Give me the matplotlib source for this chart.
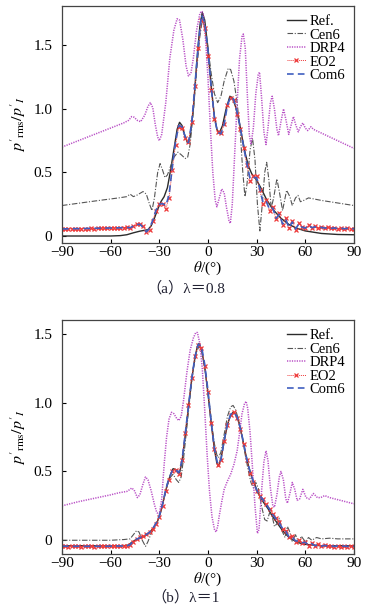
import matplotlib
matplotlib.use("Agg")
import matplotlib.pyplot as plt
import numpy as np

plt.rcParams['font.family'] = ['Liberation Serif', 'Noto Sans CJK SC', 'DejaVu Sans']
plt.rcParams['mathtext.fontset'] = 'stix'
plt.rcParams['font.size'] = 10

# ---------------- (a) lambda = 0.8 ----------------
grid_a = list(range(-90, 91, 2))
eo2_a = [0.055, 0.057, 0.055, 0.058, 0.056, 0.058, 0.057, 0.059, 0.058, 0.060,
         0.059, 0.061, 0.060, 0.062, 0.061, 0.063, 0.062, 0.064, 0.063, 0.066,
         0.068, 0.060, 0.075, 0.092, 0.095, 0.075, 0.030, 0.050, 0.120, 0.200,
         0.255, 0.250, 0.215, 0.300, 0.520, 0.720, 0.860, 0.850, 0.770, 0.740,
         0.900, 1.180, 1.480, 1.700, 1.640, 1.420, 1.150, 0.920, 0.820, 0.810,
         0.880, 1.030, 1.090, 1.070, 0.960, 0.840, 0.690, 0.560, 0.430, 0.470,
         0.470, 0.360, 0.250, 0.280, 0.200, 0.230, 0.130, 0.180, 0.090, 0.140,
         0.060, 0.120, 0.050, 0.100, 0.070, 0.060, 0.090, 0.065, 0.075, 0.065,
         0.070, 0.062, 0.068, 0.060, 0.066, 0.058, 0.064, 0.057, 0.061, 0.056,
         0.058]
com6_a = [0.056, 0.056, 0.057, 0.057, 0.058, 0.058, 0.059, 0.059, 0.060, 0.060,
          0.061, 0.061, 0.062, 0.062, 0.063, 0.063, 0.064, 0.064, 0.065, 0.066,
          0.067, 0.065, 0.078, 0.090, 0.092, 0.070, 0.032, 0.060, 0.125, 0.205,
          0.250, 0.255, 0.240, 0.320, 0.540, 0.740, 0.870, 0.860, 0.780, 0.735,
          0.890, 1.190, 1.500, 1.740, 1.680, 1.460, 1.170, 0.930, 0.815, 0.805,
          0.880, 1.030, 1.095, 1.075, 0.970, 0.850, 0.700, 0.570, 0.450, 0.460,
          0.460, 0.370, 0.260, 0.270, 0.210, 0.220, 0.140, 0.170, 0.095, 0.130,
          0.065, 0.110, 0.055, 0.095, 0.070, 0.062, 0.085, 0.066, 0.072, 0.064,
          0.068, 0.062, 0.066, 0.060, 0.064, 0.058, 0.062, 0.057, 0.060, 0.056,
          0.058]

ref_a_x = [-90, -60, -54, -50, -46, -42, -39, -37, -35, -33, -31, -29, -27, -25, -23,
           -21, -19, -17.5, -16, -14, -12.5, -11, -9, -7, -5, -3.5, -2, 0, 2, 4,
           5.5, 7, 9, 11, 13.5, 15, 17, 19, 21, 23, 25, 27, 30, 33, 36, 40, 45,
           50, 55, 60, 70, 80, 90]
ref_a_y = [0.0, 0.0, 0.003, 0.01, 0.025, 0.038, 0.045, 0.05, 0.08, 0.14, 0.21, 0.27,
           0.31, 0.38, 0.52, 0.68, 0.84, 0.895, 0.87, 0.78, 0.73, 0.78, 1.0, 1.35,
           1.65, 1.76, 1.70, 1.48, 1.18, 0.94, 0.84, 0.81, 0.87, 0.99, 1.10, 1.09,
           1.02, 0.92, 0.78, 0.65, 0.55, 0.49, 0.44, 0.37, 0.29, 0.21, 0.14, 0.09,
           0.06, 0.04, 0.02, 0.012, 0.01]

cen6_a_x = [-90, -70, -55, -50, -48, -46, -44, -40, -38, -36, -34.5, -33, -31, -29.5,
            -28, -26.5, -25, -23, -21, -18.5, -16.5, -14, -12.5, -11, -9, -7, -5,
            -3.5, -2, 0, 2, 4, 6, 8, 10, 12.5, 14, 16, 18, 20, 21.5, 22.8, 24, 26,
            27.5, 29, 30.5, 32, 33.5, 35, 36.2, 37.5, 39, 40.5, 42.5, 44, 46, 48.5,
            50.5, 52, 54, 55.5, 57, 59, 62, 66, 70, 80, 90]
cen6_a_y = [0.24, 0.275, 0.30, 0.31, 0.33, 0.31, 0.32, 0.35, 0.33, 0.25, 0.20, 0.30,
            0.50, 0.57, 0.52, 0.46, 0.48, 0.55, 0.62, 0.66, 0.64, 0.61, 0.62, 0.72,
            0.98, 1.30, 1.57, 1.70, 1.65, 1.48, 1.28, 1.12, 1.05, 1.10, 1.22, 1.32,
            1.31, 1.22, 1.05, 0.80, 0.50, 0.31, 0.40, 0.68, 0.77, 0.60, 0.25, 0.04,
            0.25, 0.50, 0.58, 0.45, 0.22, 0.30, 0.45, 0.35, 0.20, 0.36, 0.31, 0.24,
            0.30, 0.32, 0.27, 0.28, 0.30, 0.29, 0.28, 0.26, 0.24]

drp4_a_x = [-90, -80, -70, -60, -52, -49, -47, -45.5, -43.5, -41.5, -39, -37, -35.5,
            -34, -32.5, -31, -30, -28.5, -26, -23.5, -21, -19, -17.5, -15.5, -13.5,
            -12, -10.5, -9, -7, -5, -4, -3, -1.5, 0, 1.5, 3, 4.5, 5.5, 7, 8.5, 10,
            11.5, 13, 13.8, 15, 16.5, 18, 19.5, 21, 21.8, 23, 24.5, 25.5, 26.5, 28,
            29.5, 31, 31.8, 33, 34.5, 35.8, 37, 38.5, 39.6, 41, 42.5, 43.5, 45, 46.6,
            48, 49.8, 51, 52.7, 54, 55.7, 57, 58.5, 60, 61.5, 63.5, 65, 70, 80, 90]
drp4_a_y = [0.70, 0.75, 0.80, 0.85, 0.89, 0.91, 0.94, 0.935, 0.91, 0.90, 0.95, 1.02,
            1.05, 1.01, 0.88, 0.78, 0.75, 0.80, 1.05, 1.40, 1.62, 1.71, 1.70, 1.55,
            1.34, 1.26, 1.28, 1.40, 1.62, 1.75, 1.77, 1.76, 1.55, 1.25, 0.85, 0.50,
            0.28, 0.23, 0.30, 0.37, 0.34, 0.22, 0.12, 0.10, 0.25, 0.65, 1.05, 1.40,
            1.57, 1.59, 1.48, 1.05, 0.80, 0.72, 0.85, 1.12, 1.27, 1.29, 1.10, 0.82,
            0.72, 0.85, 1.05, 1.10, 1.00, 0.84, 0.79, 0.90, 1.00, 0.92, 0.80, 0.86,
            0.94, 0.88, 0.82, 0.86, 0.89, 0.85, 0.83, 0.86, 0.84, 0.81, 0.75, 0.69]

# ---------------- (b) lambda = 1 ----------------
grid_b = list(range(-90, 91, 2))
eo2_b = [-0.045, -0.042, -0.046, -0.043, -0.045, -0.042, -0.046, -0.043, -0.045, -0.042,
         -0.046, -0.043, -0.045, -0.042, -0.045, -0.042, -0.044, -0.040, -0.043, -0.040,
         -0.042, -0.035, -0.010, 0.010, 0.020, 0.030, 0.045, 0.060, 0.080, 0.120,
         0.170, 0.250, 0.360, 0.440, 0.500, 0.510, 0.480, 0.580, 0.780, 0.980,
         1.180, 1.340, 1.420, 1.400, 1.270, 1.080, 0.850, 0.660, 0.550, 0.580,
         0.720, 0.840, 0.910, 0.930, 0.890, 0.810, 0.700, 0.580, 0.490, 0.420,
         0.360, 0.320, 0.300, 0.260, 0.230, 0.190, 0.160, 0.130, 0.080, 0.070,
         0.020, 0.030, -0.010, 0.000, -0.020, -0.010, -0.040, -0.020, -0.040, -0.030,
         -0.045, -0.035, -0.045, -0.040, -0.047, -0.040, -0.047, -0.042, -0.046, -0.043,
         -0.047]
com6_b = [-0.043, -0.043, -0.044, -0.044, -0.044, -0.043, -0.044, -0.044, -0.044, -0.043,
          -0.044, -0.044, -0.044, -0.043, -0.044, -0.043, -0.043, -0.042, -0.042, -0.041,
          -0.041, -0.033, -0.008, 0.008, 0.018, 0.028, 0.042, 0.058, 0.085, 0.125,
          0.175, 0.260, 0.370, 0.450, 0.505, 0.515, 0.490, 0.580, 0.775, 0.975,
          1.175, 1.335, 1.425, 1.410, 1.280, 1.090, 0.860, 0.665, 0.555, 0.585,
          0.725, 0.845, 0.915, 0.930, 0.895, 0.815, 0.705, 0.585, 0.495, 0.425,
          0.365, 0.325, 0.295, 0.260, 0.225, 0.185, 0.155, 0.125, 0.085, 0.065,
          0.025, 0.025, -0.005, -0.005, -0.018, -0.015, -0.035, -0.025, -0.040, -0.033,
          -0.043, -0.037, -0.044, -0.040, -0.045, -0.041, -0.045, -0.042, -0.045, -0.043,
          -0.045]

ref_b_x = [-90, -60, -52, -49, -47, -45, -42, -39, -36, -33, -31, -29, -27, -25, -23,
           -21.5, -20, -18.5, -17.5, -16, -14, -12, -10, -8, -6.5, -5.5, -4, -2, 0,
           2, 4, 5.5, 6.5, 8, 10, 12, 14, 15.5, 17, 19, 21, 23, 25, 27, 29, 31, 34,
           37, 40, 43, 46, 50, 55, 60, 70, 90]
ref_b_y = [-0.04, -0.04, -0.04, -0.035, -0.015, 0.0, 0.015, 0.03, 0.055, 0.10, 0.14,
           0.21, 0.31, 0.41, 0.48, 0.52, 0.515, 0.49, 0.49, 0.57, 0.76, 0.97, 1.17,
           1.33, 1.41, 1.43, 1.39, 1.26, 1.07, 0.85, 0.66, 0.56, 0.54, 0.59, 0.72,
           0.84, 0.91, 0.93, 0.92, 0.86, 0.76, 0.64, 0.54, 0.46, 0.40, 0.34, 0.28,
           0.23, 0.17, 0.12, 0.07, 0.02, -0.015, -0.03, -0.04, -0.04]

cen6_b_x = [-90, -60, -52, -48, -46, -44, -42.5, -40.5, -38.5, -37, -35, -33, -31, -29,
            -27, -25, -23, -21.5, -19.5, -18, -16.5, -15, -13, -11, -9, -7, -5.5, -4,
            -2, 0, 2, 4, 5.5, 6.5, 8, 10, 12, 14, 15.5, 17, 19, 21, 23, 25, 26.5, 28,
            29.5, 31, 33, 35, 36.5, 38, 39.5, 41, 42.5, 44, 46, 47.5, 49, 50.5, 52,
            54, 56, 57.5, 60, 62, 64, 67, 70, 75, 80, 90]
cen6_b_y = [0.0, 0.0, 0.005, 0.01, 0.04, 0.07, 0.06, 0.0, -0.045, -0.01, 0.05, 0.09,
            0.14, 0.22, 0.31, 0.40, 0.46, 0.48, 0.44, 0.42, 0.46, 0.60, 0.82, 1.05,
            1.25, 1.37, 1.41, 1.38, 1.26, 1.08, 0.88, 0.70, 0.62, 0.60, 0.64, 0.77,
            0.90, 0.97, 0.98, 0.95, 0.87, 0.75, 0.62, 0.50, 0.42, 0.38, 0.42, 0.38,
            0.25, 0.15, 0.14, 0.20, 0.18, 0.10, 0.12, 0.16, 0.06, 0.02, 0.10, 0.06,
            -0.01, 0.04, -0.02, 0.03, -0.01, 0.02, 0.0, 0.02, 0.01, 0.015, 0.01, 0.01]

drp4_b_x = [-90, -80, -70, -60, -55, -50, -48, -47, -45.5, -43.5, -42, -40, -38.5, -37,
            -35, -33, -31.5, -30, -28.5, -27, -25.5, -24, -22.5, -21, -19.5, -18,
            -16.5, -15, -13, -11, -9, -7.5, -6.5, -5, -3.5, -2, -0.5, 1, 2.5, 4, 5,
            6, 7, 8.5, 10, 12, 14, 16, 18, 19.5, 21, 22.5, 23.5, 24.5, 26, 27.5, 29,
            30.5, 31.5, 33, 34.5, 35.8, 37, 38.5, 40, 41, 42.5, 44, 45, 46.5, 48, 49,
            50.5, 52, 53.5, 55, 56.5, 58.5, 60.5, 62.5, 65, 67.5, 69.5, 72, 75, 80, 90]
drp4_b_y = [0.25, 0.28, 0.305, 0.33, 0.345, 0.355, 0.37, 0.38, 0.365, 0.31, 0.33,
            0.41, 0.46, 0.44, 0.36, 0.26, 0.20, 0.19, 0.30, 0.55, 0.75, 0.88, 0.93,
            0.92, 0.89, 0.87, 0.90, 1.02, 1.22, 1.38, 1.47, 1.51, 1.51, 1.43, 1.25,
            0.95, 0.62, 0.35, 0.17, 0.08, 0.06, 0.10, 0.18, 0.28, 0.37, 0.43, 0.48,
            0.55, 0.65, 0.78, 0.92, 0.99, 1.01, 0.96, 0.78, 0.52, 0.25, 0.05, 0.08,
            0.35, 0.57, 0.65, 0.58, 0.38, 0.25, 0.24, 0.33, 0.46, 0.50, 0.44, 0.30,
            0.27, 0.34, 0.42, 0.37, 0.29, 0.30, 0.37, 0.31, 0.30, 0.34, 0.31, 0.31,
            0.325, 0.31, 0.295, 0.265]

labels = ["Ref.", "Cen6", "DRP4", "EO2", "Com6"]
xticks = [-90, -60, -30, 0, 30, 60, 90]
yticks = [0, 0.5, 1.0, 1.5]
yticklabels = ["0", "0.5", "1.0", "1.5"]


def draw(ax, grid, ref_x, ref_y, cen_x, cen_y, drp_x, drp_y, eo2, com6, ylim):
    ax.plot(ref_x, ref_y, color='#2b2b2b', lw=1.0, label=labels[0])
    ax.plot(cen_x, cen_y, color='#555555', lw=0.8, ls=(0, (5, 1.5, 1, 1.5)), label=labels[1])
    ax.plot(drp_x, drp_y, color='#b94fc6', lw=1.1, ls=(0, (0.8, 0.8)), label=labels[2])
    ax.plot(grid, eo2, color='#ee3a3a', lw=0.7, ls=(0, (1, 1)), marker='x', ms=3.4,
            mew=0.9, label=labels[3])
    ax.plot(grid, com6, color='#3f5fc0', lw=1.2, ls=(0, (4, 2.5)), label=labels[4])
    ax.set_xlim(-90, 90)
    ax.set_ylim(*ylim)
    ax.set_xticks(xticks)
    ax.set_yticks(yticks)
    ax.set_yticklabels(yticklabels)
    ax.tick_params(direction='in', length=3, width=0.8, labelsize=11, pad=2)
    ax.tick_params(axis='y', pad=7)
    for s in ax.spines.values():
        s.set_color('#444444')
        s.set_linewidth(0.9)
    ax.set_xlabel(r"$\theta$/(°)", fontsize=11)
    ax.xaxis.set_label_coords(0.5, -0.072)
    ax.set_ylabel(r"${p'}_{\mathrm{rms}}/{p'}_{I}$", fontsize=11.5)
    ax.yaxis.set_label_coords(-0.115, 0.5)
    ax.legend(loc='upper right', frameon=False, fontsize=10.5, labelspacing=0.02,
              handlelength=1.3, handletextpad=0.25, borderaxespad=0.3,
              borderpad=0.3)


fig = plt.figure(figsize=(3.71, 6.09), dpi=100)
ax1 = fig.add_axes([0.167, 0.601, 0.787, 0.389])
ax2 = fig.add_axes([0.167, 0.0903, 0.787, 0.384])

draw(ax1, grid_a, ref_a_x, ref_a_y, cen6_a_x, cen6_a_y, drp4_a_x, drp4_a_y,
     eo2_a, com6_a, (-0.055, 1.81))
draw(ax2, grid_b, ref_b_x, ref_b_y, cen6_b_x, cen6_b_y, drp4_b_x, drp4_b_y,
     eo2_b, com6_b, (-0.10, 1.60))

fig.text(0.5, 1 - 288 / 609, "（a）λ＝0.8", ha='center', va='center', fontsize=11,
         color='#222233')
fig.text(0.5, 1 - 597 / 609, "（b）λ＝1", ha='center', va='center', fontsize=11,
         color='#222233')

fig.savefig("out.png", dpi=100)
